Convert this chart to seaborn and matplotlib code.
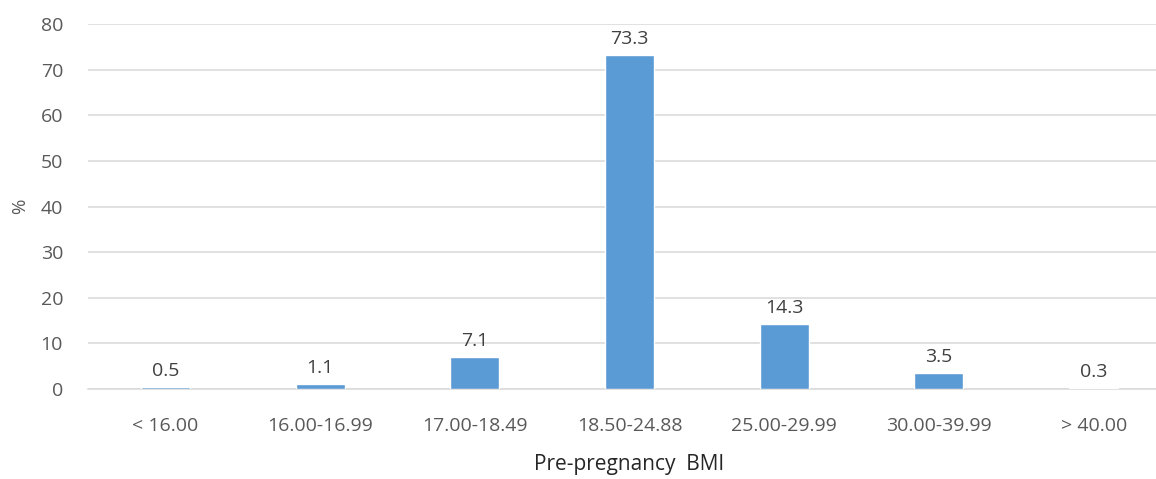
import matplotlib
matplotlib.use("Agg")
import matplotlib.pyplot as plt
import seaborn as sns
import pandas as pd

categories = ["< 16.00", "16.00-16.99", "17.00-18.49", "18.50-24.88",
              "25.00-29.99", "30.00-39.99", "> 40.00"]
values = [0.5, 1.1, 7.1, 73.3, 14.3, 3.5, 0.3]
value_labels = ["0.5", "1.1", "7.1", "73.3", "14.3", "3.5", "0.3"]
yticks = [0, 10, 20, 30, 40, 50, 60, 70, 80]

sns.set_theme(style="white")
plt.rcParams['font.family'] = ['Open Sans', 'DejaVu Sans']

df = pd.DataFrame({"cat": categories, "val": values})

fig = plt.figure(figsize=(11.56, 4.79), dpi=100)
ax = fig.add_axes([88/1156, 90/479, (1171-88)/1156, (389-24)/479])

sns.barplot(data=df, x="cat", y="val", color="#5B9BD5", width=0.317,
            saturation=1, ax=ax, zorder=3)

ax.set_xlim(-0.5, len(categories) - 0.5)
ax.set_ylim(0, 80)
ax.set_yticks(yticks)
ax.yaxis.grid(True, color="#D9D9D9", linewidth=1.1, zorder=0)
ax.xaxis.grid(False)
for s in ["top", "right", "left"]:
    ax.spines[s].set_visible(False)
ax.spines["bottom"].set_color("#D9D9D9")
ax.spines["bottom"].set_linewidth(1.1)
ax.tick_params(axis="both", length=0, labelsize=14, labelcolor="#595959")
ax.tick_params(axis="x", pad=20)
ax.tick_params(axis="y", pad=18)

for p, lab in zip(ax.patches, value_labels):
    ax.annotate(lab, (p.get_x() + p.get_width() / 2, p.get_height()),
                xytext=(0, 5), textcoords="offset points",
                ha="center", va="bottom", fontsize=14, color="#404040")

ax.set_xlabel("Pre-pregnancy  BMI", fontsize=15, color="#262626", labelpad=14)
ax.set_ylabel("%", fontsize=13.5, color="#595959", labelpad=8)

fig.savefig("out.png", dpi=100)
